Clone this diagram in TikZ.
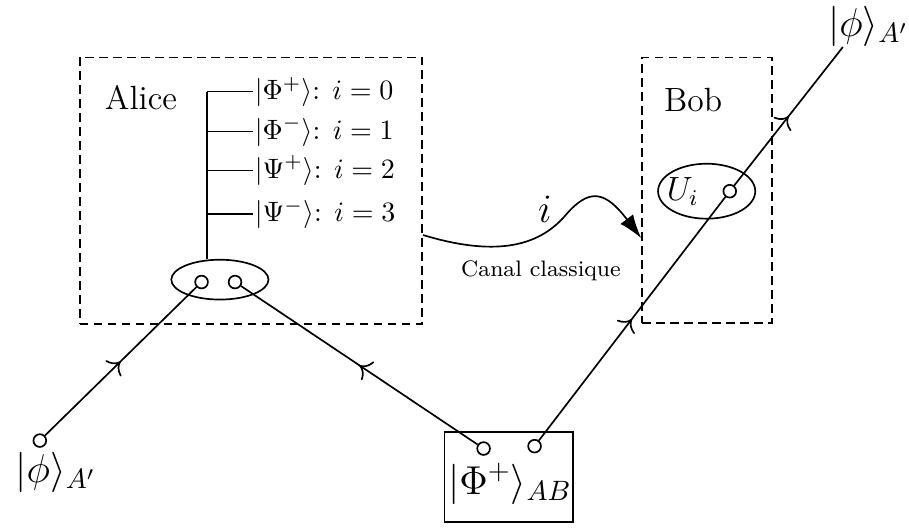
\documentclass[tikz,border=0pt]{standalone}
\usepackage{amsmath}
\usetikzlibrary{arrows.meta, positioning, shapes.geometric, decorations.markings}

\begin{document}
\begin{tikzpicture}[semithick,
  >={Latex[length=3mm,width=2mm]},
  party/.style={draw, dash pattern=on 3pt off 2pt, inner sep=0pt},
  meas/.style={draw, ellipse, inner sep=0pt},
  port/.style={draw, circle, fill=white, inner sep=0pt, minimum size=0.16cm},
  midarrow/.style={postaction={decorate, decoration={markings,
      mark=at position 0.5 with {\arrow{To[scale=1.3]}}}}}]
\useasboundingbox (0,0) rectangle (11.41,-6.63);

% Alice
\node[party, minimum width=4.3cm, minimum height=3.35cm] (alice) at (3.15,-2.395) {};
\node[font=\large] (alicename) at (1.77,-1.22) {Alice};
\node[meas, minimum width=1.22cm, minimum height=0.5cm] (bell) at (2.76,-3.51) {};
\node[port] (a1) at (2.53,-3.54) {};
\node[port] (a2) at (2.95,-3.54) {};
\coordinate (stem) at (2.60,-1.15);
\draw (stem) -- (stem |- bell.north);
\foreach \y/\res [count=\k] in {-1.15/{$|\Phi^+\rangle$: $i=0$},
    -1.65/{$|\Phi^-\rangle$: $i=1$}, -2.14/{$|\Psi^+\rangle$: $i=2$},
    -2.69/{$|\Psi^-\rangle$: $i=3$}} {
  \node[anchor=west, inner sep=0.5pt] (res\k) at (3.17,\y) {\res};
  \draw (stem |- res\k.west) -- (res\k.west);
}

% Bob
\node[party, minimum width=1.63cm, minimum height=3.33cm] (bob) at (8.875,-2.385) {};
\node[font=\large] (bobname) at (8.70,-1.25) {Bob};
\node[meas, minimum width=1.22cm, minimum height=0.69cm] (corr) at (8.87,-2.40) {};
\node[font=\large] (uname) at (8.57,-2.40) {$U_i$};
\node[port] (b1) at (9.16,-2.40) {};
\coordinate (out) at (10.58,-0.59);
\node[font=\Large] (outname) at (10.90,-0.33) {$|\phi\rangle_{A'}$};

% source and input state
\node[draw, minimum width=1.61cm, minimum height=1.13cm] (epr) at (6.385,-5.985) {};
\node[font=\Large] (eprname) at (6.40,-6.07) {$|\Phi^+\rangle_{AB}$};
\node[port] (e1) at (6.07,-5.63) {};
\node[port] (e2) at (6.71,-5.60) {};
\node[port] (q) at (0.50,-5.53) {};
\node[font=\Large] (qname) at (0.70,-5.93) {$|\phi\rangle_{A'}$};

% quantum lines
\draw[midarrow] (q) -- (a1);
\draw[midarrow] (e1) -- (a2);
\draw[midarrow] (e2) -- (b1);
\draw[midarrow] (b1) -- (out);

% classical channel
\coordinate (cin) at (alice.east |- 0,-2.95);
\coordinate (cout) at (bob.west |- 0,-2.99);
\draw[->] (cin) .. controls (6.3,-3.25) and (6.8,-3.05) .. (7.1,-2.7)
  .. controls (7.4,-2.35) and (7.6,-2.4) .. (cout);
\node[font=\Large] (idx) at (6.84,-2.63) {$i$};
\node[font=\footnotesize] (chan) at (6.79,-3.40) {Canal classique};
\end{tikzpicture}
\end{document}
